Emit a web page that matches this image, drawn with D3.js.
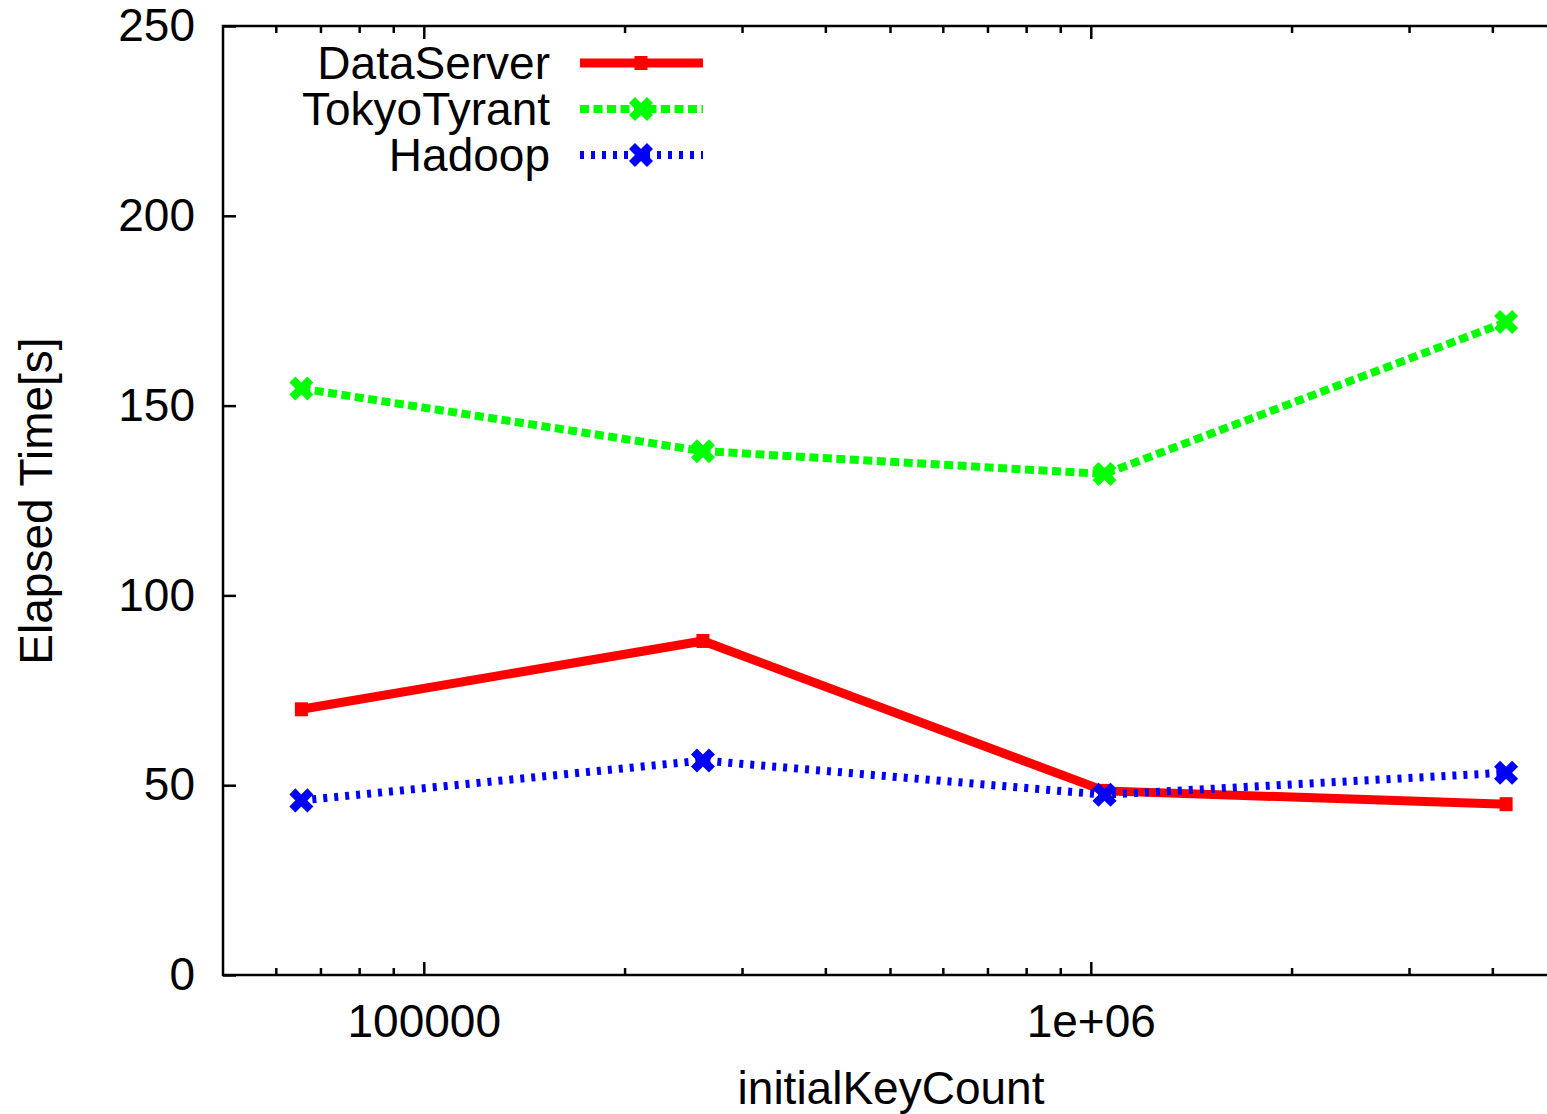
<!DOCTYPE html>
<html>
<head>
<meta charset="utf-8">
<script src="https://cdn.jsdelivr.net/npm/d3@7"></script>
<style>
  body { margin: 0; background: #fff; }
  svg { display: block; font-family: "Liberation Sans", Arial, Helvetica, sans-serif; }
  .axis path, .axis line { stroke: #000; stroke-width: 2.5; }
  .axis text { font-size: 46px; fill: #000; }
</style>
</head>
<body>
<svg id="chart" width="1547" height="1114"></svg>
<script>
"use strict";

// initialKeyCount values (x, log scale)
var keyCounts = [65536, 262144, 1048576, 4194304];

var dataServer  = [70, 88, 48.5, 45];
var tokyoTyrant = [154.5, 138, 132, 172];
var hadoop      = [46, 56.5, 47.5, 53.3];

var xMajorTicks = [100000, 1000000];
var xMinorTicks = [60000, 70000, 80000, 90000, 200000, 300000, 400000, 500000, 600000, 700000, 800000, 900000, 2000000, 3000000, 4000000];
var xTickLabels = ["100000", "1e+06"];
var yTicks = [0, 50, 100, 150, 200, 250];

var svg = d3.select("#chart");

var plotLeft = 223, plotRight = 1557, plotTop = 26, plotBottom = 975;

var x = d3.scaleLog().domain([50000, 5000000]).range([plotLeft, plotRight]);
var y = d3.scaleLinear().domain([0, 250]).range([plotBottom, plotTop]);

// frame
svg.append("rect")
  .attr("x", plotLeft).attr("y", plotTop)
  .attr("width", plotRight - plotLeft).attr("height", plotBottom - plotTop)
  .attr("fill", "none").attr("stroke", "#000").attr("stroke-width", 2.5);

// x axis, bottom
var xAxis = d3.axisBottom(x)
  .tickValues(xMajorTicks)
  .tickFormat(function(d, i) { return xTickLabels[i]; })
  .tickSizeInner(-13).tickSizeOuter(0).tickPadding(29);

svg.append("g")
  .attr("class", "x axis")
  .attr("transform", "translate(0," + plotBottom + ")")
  .call(xAxis)
  .call(function(g) { g.select(".domain").remove(); });

svg.append("g")
  .attr("class", "x axis minor")
  .attr("transform", "translate(0," + plotBottom + ")")
  .call(d3.axisBottom(x).tickValues(xMinorTicks).tickFormat("").tickSizeInner(-7).tickSizeOuter(0))
  .call(function(g) { g.select(".domain").remove(); });

// mirrored ticks on top
svg.append("g")
  .attr("class", "x axis")
  .attr("transform", "translate(0," + plotTop + ")")
  .call(d3.axisTop(x).tickValues(xMajorTicks).tickFormat("").tickSizeInner(-13).tickSizeOuter(0))
  .call(function(g) { g.select(".domain").remove(); });

svg.append("g")
  .attr("class", "x axis minor")
  .attr("transform", "translate(0," + plotTop + ")")
  .call(d3.axisTop(x).tickValues(xMinorTicks).tickFormat("").tickSizeInner(-7).tickSizeOuter(0))
  .call(function(g) { g.select(".domain").remove(); });

// y axis
svg.append("g")
  .attr("class", "y axis")
  .attr("transform", "translate(" + plotLeft + ",0)")
  .call(d3.axisLeft(y).tickValues(yTicks).tickFormat(d3.format("d")).tickSizeInner(-13).tickSizeOuter(0).tickPadding(28))
  .call(function(g) { g.select(".domain").remove(); });

// axis titles
svg.append("text")
  .attr("transform", "translate(52,501) rotate(-90)")
  .attr("text-anchor", "middle")
  .style("font-size", "46px")
  .text("Elapsed Time[s]");

svg.append("text")
  .attr("x", 891).attr("y", 1104)
  .attr("text-anchor", "middle")
  .style("font-size", "46px")
  .text("initialKeyCount");

var series = [
  { name: "DataServer",  values: dataServer,  color: "#ff0000", width: 9, dash: null,    marker: "square" },
  { name: "TokyoTyrant", values: tokyoTyrant, color: "#00ff00", width: 8, dash: "9,4.5", marker: "cross" },
  { name: "Hadoop",      values: hadoop,      color: "#0000ff", width: 8, dash: "4,7",   marker: "cross" }
];

var line = d3.line()
  .x(function(d) { return x(d.k); })
  .y(function(d) { return y(d.v); });

function drawMarker(g, type, color) {
  if (type === "square") {
    g.append("rect")
      .attr("x", -6.5).attr("y", -7).attr("width", 13).attr("height", 14)
      .attr("fill", color);
  } else {
    g.append("path")
      .attr("d", "M-6,-6L6,6M-6,6L6,-6")
      .attr("stroke", color).attr("stroke-width", 8.5)
      .attr("stroke-linecap", "square");
  }
}

series.forEach(function(s, si) {
  var pts = s.values.map(function(v, i) { return { k: keyCounts[i], v: v }; });

  svg.append("path")
    .datum(pts)
    .attr("fill", "none")
    .attr("stroke", s.color)
    .attr("stroke-width", s.width)
    .attr("stroke-dasharray", s.dash)
    .attr("d", line);

  pts.forEach(function(p) {
    var g = svg.append("g").attr("transform", "translate(" + x(p.k) + "," + y(p.v) + ")");
    drawMarker(g, s.marker, s.color);
  });

  // legend entry
  var ly = 63 + si * 46;
  svg.append("text")
    .attr("x", 550).attr("y", ly)
    .attr("dy", "0.35em")
    .attr("text-anchor", "end")
    .style("font-size", "46px")
    .text(s.name);

  svg.append("line")
    .attr("x1", 580).attr("x2", 703)
    .attr("y1", ly).attr("y2", ly)
    .attr("stroke", s.color)
    .attr("stroke-width", s.width)
    .attr("stroke-dasharray", s.dash);

  var lg = svg.append("g").attr("transform", "translate(641," + ly + ")");
  drawMarker(lg, s.marker, s.color);
});
</script>
</body>
</html>
